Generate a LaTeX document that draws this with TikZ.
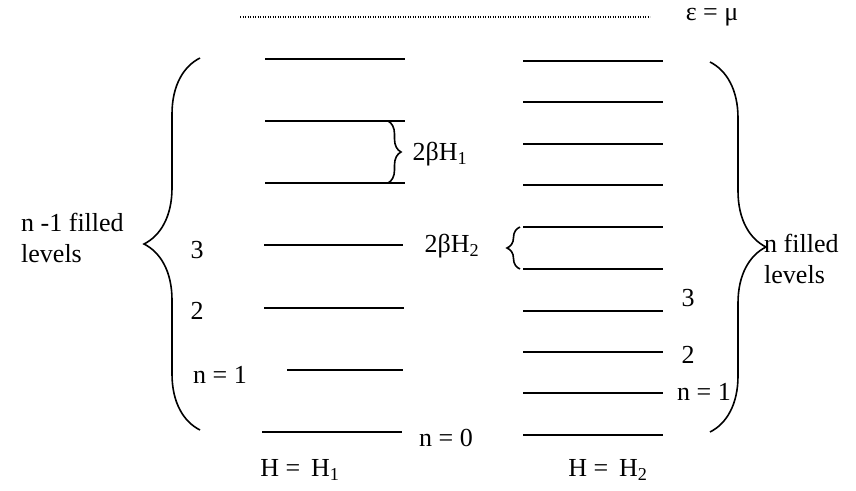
\documentclass[tikz,border=0pt]{standalone}
\usepackage{fontspec}
\setmainfont{Liberation Serif}
\usetikzlibrary{
  positioning,
  decorations.pathreplacing
}

\begin{document}
\begin{tikzpicture}[
    x=1pt, y=-1pt,
    every node/.style={font=\fontsize{26}{31}\selectfont, inner sep=0pt},
    level/.style={
        line width=1.6pt
    },
    fermi/.style={
        line width=1.3pt,
        dash pattern=on 1.2pt off 1.3pt
    },
    bigbrace/.style={
        decorate,
        decoration={brace, amplitude=56pt},
        line width=1.6pt
    },
    smallbrace/.style={
        decorate,
        decoration={brace, amplitude=13pt},
        line width=1.6pt
    },
    txt/.style={
        align=left,
        anchor=west
    }
]
\useasboundingbox (0,0) rectangle (856,490);

% Chemical potential
\coordinate (mua) at (240,17);
\coordinate (mub) at (650,17);
\draw[fermi] (mua) -- (mub);
\node (mu) at (712,17) {ε = μ};

% Levels for H = H1
\coordinate (a1) at (265,59);  \coordinate (b1) at (405,59);
\coordinate (a2) at (265,121); \coordinate (b2) at (405,121);
\coordinate (a3) at (265,183); \coordinate (b3) at (405,183);
\coordinate (a4) at (264,245); \coordinate (b4) at (403,245);
\coordinate (a5) at (264,308); \coordinate (b5) at (404,308);
\coordinate (a6) at (287,370); \coordinate (b6) at (403,370);
\coordinate (a7) at (262,432); \coordinate (b7) at (402,432);

\draw[level] (a1) -- (b1);
\draw[level] (a2) -- (b2);
\draw[level] (a3) -- (b3);
\draw[level] (a4) -- (b4);
\draw[level] (a5) -- (b5);
\draw[level] (a6) -- (b6);
\draw[level] (a7) -- (b7);

% Levels for H = H2
\coordinate (c1) at (523,61);   \coordinate (d1) at (663,61);
\coordinate (c2) at (523,102);  \coordinate (d2) at (663,102);
\coordinate (c3) at (523,144);  \coordinate (d3) at (663,144);
\coordinate (c4) at (523,185);  \coordinate (d4) at (663,185);
\coordinate (c5) at (523,227);  \coordinate (d5) at (663,227);
\coordinate (c6) at (523,269);  \coordinate (d6) at (663,269);
\coordinate (c7) at (523,311);  \coordinate (d7) at (663,311);
\coordinate (c8) at (523,352);  \coordinate (d8) at (663,352);
\coordinate (c9) at (523,393);  \coordinate (d9) at (663,393);
\coordinate (c10) at (523,435); \coordinate (d10) at (663,435);

\draw[level] (c1) -- (d1);
\draw[level] (c2) -- (d2);
\draw[level] (c3) -- (d3);
\draw[level] (c4) -- (d4);
\draw[level] (c5) -- (d5);
\draw[level] (c6) -- (d6);
\draw[level] (c7) -- (d7);
\draw[level] (c8) -- (d8);
\draw[level] (c9) -- (d9);
\draw[level] (c10) -- (d10);

% Braces
\coordinate (lbot) at (200,430);
\coordinate (ltop) at (200,58);
\coordinate (rtop) at (710,62);
\coordinate (rbot) at (710,432);
\coordinate (g1top) at (388,121);
\coordinate (g1bot) at (388,183);
\coordinate (g2top) at (520,227);
\coordinate (g2bot) at (520,269);

\draw[bigbrace] (lbot) -- (ltop);
\draw[bigbrace] (rtop) -- (rbot);
\draw[smallbrace] (g1top) -- (g1bot);
\draw[smallbrace] (g2bot) -- (g2top);

% Labels
\node[txt] (fillleft) at (21,238) {n -1 filled\\levels};
\node[txt] (fillright) at (764,259) {n filled\\levels};

\node (n3left) at (197,250) {3};
\node (n2left) at (197,311) {2};
\node (n1left) at (220,375) {n = 1};
\node (n0) at (446,438) {n = 0};

\node (n3right) at (688,298) {3};
\node (n2right) at (688,355) {2};
\node (n1right) at (704,392) {n = 1};

\node (gap1) at (440,154) {2βH\textsubscript{1}};
\node (gap2) at (452,246) {2βH\textsubscript{2}};

\node (field1) at (300,470) {H = \,H\textsubscript{1}};
\node (field2) at (608,470) {H = \,H\textsubscript{2}};

\end{tikzpicture}
\end{document}
